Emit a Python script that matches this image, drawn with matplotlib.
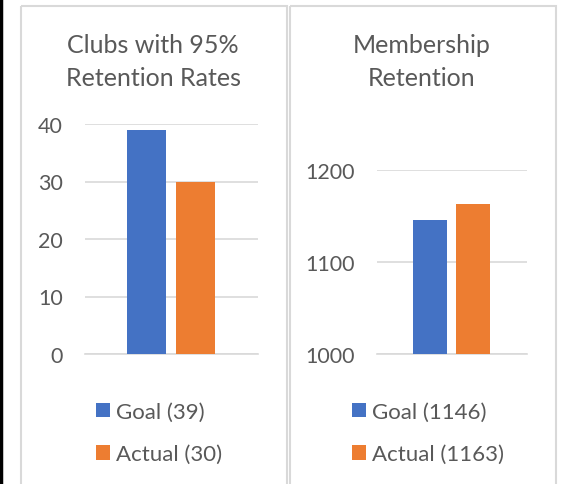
import matplotlib
matplotlib.use("Agg")
import matplotlib.pyplot as plt
from matplotlib.patches import Rectangle
from matplotlib.lines import Line2D

# data
left_title = "Clubs with 95%\nRetention Rates"
left_series = ["Goal (39)", "Actual (30)"]
left_values = [39, 30]
left_ticks = [0, 10, 20, 30, 40]

right_title = "Membership\nRetention"
right_series = ["Goal (1146)", "Actual (1163)"]
right_values = [1146, 1163]
right_ticks = [1000, 1100, 1200]

colors = ["#4472C4", "#ED7D31"]
text_col = "#595959"
grid_col = "#d9d9d9"

plt.rcParams['font.family'] = ['Lato', 'DejaVu Sans']

W, H = 573, 485
fig = plt.figure(figsize=(W / 100, H / 100), dpi=100)


def px_axes(x0, y0, x1, y1):
    # pixel box (top-left origin) -> figure axes
    return fig.add_axes([x0 / W, 1 - y1 / H, (x1 - x0) / W, (y1 - y0) / H])


# panel frames
frame = fig.add_axes([0, 0, 1, 1])
frame.set_xlim(0, W)
frame.set_ylim(H, 0)
frame.axis('off')
frame.add_patch(Rectangle((20.5, 6.5), 266.5, 490, fill=False, ec=grid_col, lw=1.5))
frame.add_patch(Rectangle((289.5, 6.5), 266.5, 490, fill=False, ec=grid_col, lw=1.5))
frame.add_line(Line2D([1, 1], [0, H], color="black", lw=2.5))


def draw_panel(box, title, title_x, series, values, ticks, legend_xy):
    ax = px_axes(*box)
    width = 0.226
    gap = 0.06
    offsets = [-(width + gap) / 2, (width + gap) / 2]
    bars = []
    for i, (name, v) in enumerate(zip(series, values)):
        b = ax.bar(0.497 + offsets[i], v - ticks[0], width=width, bottom=ticks[0],
                   color=colors[i], label=name, zorder=3)
        bars.append(b)
    ax.set_xlim(0, 1)
    ax.set_ylim(ticks[0], ticks[-1])
    ax.set_yticks(ticks)
    ax.set_xticks([])
    ax.tick_params(axis='y', length=0, pad=16, labelsize=15.5, labelcolor=text_col)
    ax.grid(axis='y', color=grid_col, lw=1.2, zorder=0)
    ax.set_axisbelow(True)
    for s in ax.spines.values():
        s.set_visible(False)
    ax.axhline(ticks[0], color=grid_col, lw=1.2, zorder=2, clip_on=False)
    ax.patch.set_alpha(0)
    fig.text(title_x / W, 1 - 34 / H, title, ha='center', va='top',
             fontsize=18, color=text_col, linespacing=1.55)
    fig.legend(handles=bars, labels=series, loc='upper left',
               bbox_to_anchor=(legend_xy[0] / W, 1 - legend_xy[1] / H),
               frameon=False, fontsize=16, labelcolor=text_col,
               handlelength=0.62, handleheight=0.62, handletextpad=0.3,
               labelspacing=1.0, borderaxespad=0, borderpad=0)


draw_panel((85, 125, 258, 355), left_title, 153, left_series, left_values,
           left_ticks, (96, 403))
draw_panel((377, 171, 527, 355), right_title, 422, right_series, right_values,
           right_ticks, (352, 403))

plt.savefig('out.png', dpi=100)
